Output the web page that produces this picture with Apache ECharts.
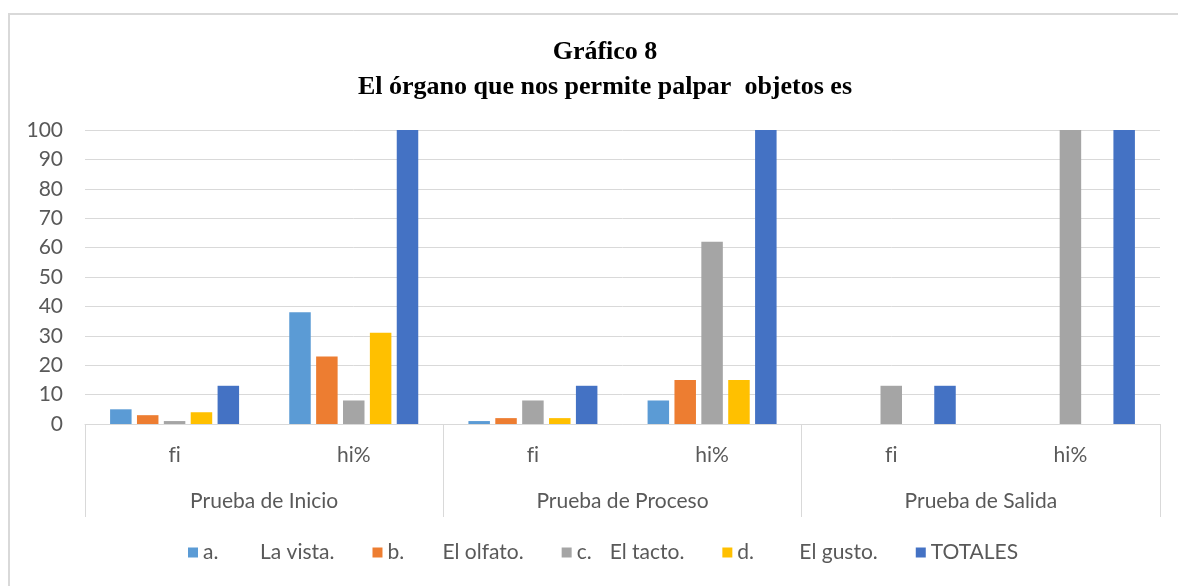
<!DOCTYPE html>
<html>
<head>
<meta charset="utf-8">
<script src="https://cdn.jsdelivr.net/npm/echarts@6/dist/echarts.min.js"></script>
<style>
  html, body { margin: 0; padding: 0; background: #ffffff; }
  #chart { width: 1178px; height: 586px; }
</style>
</head>
<body>
<div id="chart"></div>
<script>
// Inner category level (under each bar group) and outer group level.
// A zero-width non-joiner keeps "f" and "i" from forming a ligature.
const subCategories = ['f\u200Ci', 'hi%', 'f\u200Ci', 'hi%', 'f\u200Ci', 'hi%'];
const groups = ['Prueba de Inicio', 'Prueba de Proceso', 'Prueba de Salida'];

// Legend entries: option letter and answer text
const optionKeys = ['a.', 'b.', 'c.', 'd.', ''];
const optionTexts = ['La vista.', 'El olfato.', 'El tacto.', 'El gusto.', 'TOTALES'];

// Values per answer option, in the order of subCategories
const vista  = [5, 38, 1, 8, 0, 0];
const olfato = [3, 23, 2, 15, 0, 0];
const tacto  = [1, 8, 8, 62, 13, 100];
const gusto  = [4, 31, 2, 15, 0, 0];
const totales = [13, 100, 13, 100, 13, 100];

const yTicks = [0, 100, 10]; // min, max, step

const seriesValues = [vista, olfato, tacto, gusto, totales];
const colors = ['#5b9bd5', '#ed7d31', '#a5a5a5', '#ffc000', '#4472c4'];
const keyWidths = [57, 55, 33, 62, 0];

const FONT = 'Lato';
const TEXT = '#595959';
const LINE = '#d9d9d9';

const seriesNames = optionKeys.map((k, i) => (k ? k + ' ' : '') + optionTexts[i]);

const rich = {};
keyWidths.forEach((w, i) => {
  rich['k' + i] = { width: w, fontFamily: FONT, fontSize: 21, color: TEXT };
});
rich.v = { fontFamily: FONT, fontSize: 21, color: TEXT };

const chart = echarts.init(document.getElementById('chart'), null, { renderer: 'canvas' });

chart.setOption({
  animation: false,
  color: colors,
  title: {
    text: 'Gráfico 8\nEl órgano que nos permite palpar  objetos es',
    left: 600,
    top: 30,
    textAlign: 'center',
    textStyle: {
      fontFamily: 'Liberation Serif',
      fontWeight: 'bold',
      fontSize: 26,
      lineHeight: 35,
      color: '#000000',
      align: 'center'
    }
  },
  graphic: [{
    type: 'rect',
    shape: { x: 9, y: 14, width: 1200, height: 620 },
    style: { fill: 'none', stroke: LINE, lineWidth: 2 },
    silent: true
  }],
  legend: {
    data: seriesNames,
    top: 537,
    left: 183,
    icon: 'rect',
    itemWidth: 10,
    itemHeight: 10,
    itemGap: 38,
    formatter: function (name) {
      const i = seriesNames.indexOf(name);
      if (!optionKeys[i]) return '{v|' + optionTexts[i] + '}';
      return '{k' + i + '|' + optionKeys[i] + '}{v|' + optionTexts[i] + '}';
    },
    textStyle: { fontFamily: FONT, fontSize: 21, color: TEXT, rich: rich }
  },
  grid: { left: 85, right: 18, top: 130, bottom: 162, containLabel: false },
  xAxis: [
    {
      type: 'category',
      data: subCategories,
      position: 'bottom',
      axisLine: { show: true, lineStyle: { color: LINE, width: 1 } },
      axisTick: { show: false },
      axisLabel: { margin: 21, fontFamily: FONT, fontSize: 21, color: TEXT, interval: 0 },
      splitLine: { show: false }
    },
    {
      type: 'category',
      data: groups,
      position: 'bottom',
      axisLine: { show: false },
      axisTick: { show: true, length: 93, lineStyle: { color: LINE, width: 1 } },
      axisLabel: { margin: 67, fontFamily: FONT, fontSize: 21, color: TEXT, interval: 0 },
      splitLine: { show: false }
    }
  ],
  yAxis: {
    type: 'value',
    min: yTicks[0],
    max: yTicks[1],
    interval: yTicks[2],
    axisLine: { show: false },
    axisTick: { show: false },
    axisLabel: { margin: 22, fontFamily: FONT, fontSize: 21, color: TEXT },
    splitLine: { lineStyle: { color: LINE, width: 1 } }
  },
  series: seriesValues.map((vals, i) => ({
    name: seriesNames[i],
    type: 'bar',
    xAxisIndex: 0,
    data: vals,
    barWidth: 21.5,
    barGap: '25%',
    itemStyle: { color: colors[i] }
  }))
});
</script>
</body>
</html>
